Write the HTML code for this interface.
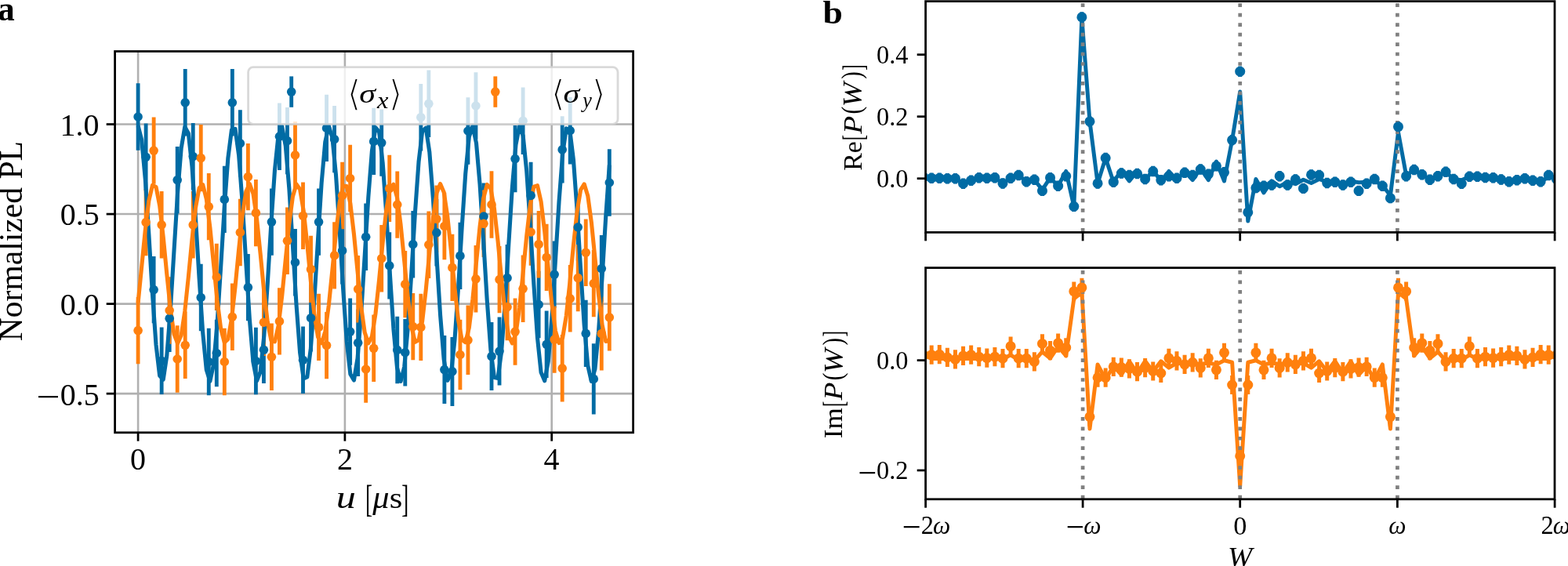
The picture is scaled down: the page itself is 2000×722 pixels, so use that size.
<!DOCTYPE html>
<html lang="en"><head><meta charset="utf-8"><title>Figure</title>
<style>
html,body{margin:0;padding:0;background:#fff;}
body{width:2000px;height:722px;overflow:hidden;}
svg{display:block;}
text{font-family:'Liberation Serif','DejaVu Serif',serif;fill:#000;font-kerning:none;white-space:pre;}
</style></head>
<body>
<svg width="2000" height="722" viewBox="0 0 2000 722">
<rect width="2000" height="722" fill="#fff"/>
<clipPath id="ca"><rect x="146.6" y="65.5" width="661" height="486.3"/></clipPath>
<g clip-path="url(#ca)">
<line x1="176.1" x2="176.1" y1="65.5" y2="551.8" stroke="#b0b0b0" stroke-width="2.6"/>
<line x1="439.9" x2="439.9" y1="65.5" y2="551.8" stroke="#b0b0b0" stroke-width="2.6"/>
<line x1="703.7" x2="703.7" y1="65.5" y2="551.8" stroke="#b0b0b0" stroke-width="2.6"/>
<line x1="146.6" x2="807.6" y1="158.53" y2="158.53" stroke="#b0b0b0" stroke-width="2.6"/>
<line x1="146.6" x2="807.6" y1="273.07" y2="273.07" stroke="#b0b0b0" stroke-width="2.6"/>
<line x1="146.6" x2="807.6" y1="387.6" y2="387.6" stroke="#b0b0b0" stroke-width="2.6"/>
<line x1="146.6" x2="807.6" y1="502.13" y2="502.13" stroke="#b0b0b0" stroke-width="2.6"/>
<path d="M176.1 106.3V191.7M186.12 157.6V243M196.14 326.9V412.3M206.16 417.6V503M216.18 363.5V448.9M226.2 186.9V272.3M236.22 88.1V173.5M246.24 156.9V242.3M256.26 336.8V422.2M266.28 418.8V504.2M276.3 407.8V493.2M286.32 211.7V297.1M296.34 88.1V173.5M306.36 140.2V225.6M316.38 323.9V409.3M326.4 417.8V503.2M336.42 403.6V489M346.44 240.4V325.8M356.46 131.5V216.9M366.48 136.9V222.3M376.5 292V377.4M386.52 416.6V502M396.54 363V448.4M406.56 240.4V325.8M416.58 120.7V206.1M426.6 134.9V220.3M436.62 277V362.4M446.64 380.4V465.8M456.66 394.6V480M466.68 259.6V345M476.7 137.7V223.1M486.72 139.4V224.8M496.74 296.2V381.6M506.76 403.8V489.2M516.78 407V492.4M526.8 269V354.4M536.82 107V192.4M546.84 89.6V175M556.86 254.1V339.5M566.88 428.1V515.1M576.9 429.9V517.9M586.92 283.7V369.1M596.94 124.3V209.7M606.96 92.3V177.7M616.98 233.4V318.8M627 411.1V498.1M637.02 404.6V491.6M647.04 311.9V397.3M657.06 159.9V245.3M667.08 111.5V196.9M677.1 206.7V292.1M687.12 345.8V431.2M697.14 396.6V482M707.16 307.4V392.8M717.18 148.2V233.6M727.2 124V209.4M737.22 247.1V332.5M747.24 382.7V468.1M757.26 438.2V528.6M767.28 299.9V385.3M777.3 190.3V275.7" stroke="#006ba4" stroke-width="4.85" fill="none"/>
<path d="M176.1 378.9V464.3M186.12 240.9V326.3M196.14 149.4V234.8M206.16 244.1V329.5M216.18 353.3V438.7M226.2 415.3V500.7M236.22 397.6V483M246.24 244.1V329.5M256.26 158.9V244.3M266.28 220.9V306.3M276.3 310.7V396.1M286.32 418.8V504.2M296.34 361.5V446.9M306.36 253.8V339.2M316.38 182.9V268.3M326.4 228.9V314.3M336.42 368.5V453.9M346.44 412.6V498M356.46 367.2V452.6M366.48 264.5V349.9M376.5 155.1V240.5M386.52 232.6V318M396.54 300.7V386.1M406.56 374.7V460.1M416.58 397.9V483.3M426.6 283.2V368.6M436.62 206.8V292.2M446.64 184.8V270.2M456.66 326.1V411.5M466.68 428.3V513.7M476.7 401.6V487M486.72 287V372.4M496.74 197.7V283.1M506.76 218.4V303.8M516.78 319.9V405.3M526.8 373.9V459.3M536.82 374.7V460.1M546.84 269.5V354.9M556.86 236.6V322M566.88 245.8V331.2M576.9 298.7V384.1M586.92 407.8V497.2M596.94 389.6V478M606.96 313.1V398.5M616.98 242.6V328M627 218.3V303.7M637.02 313.9V399.3M647.04 348.9V434.3M657.06 380.4V465.8M667.08 325.6V411M677.1 253.3V338.7M687.12 269V354.4M697.14 285.7V371.1M707.16 390.4V475.8M717.18 427.1V512.5M727.2 338.1V423.5M737.22 311.9V397.3M747.24 279.5V364.9M757.26 318.9V404.3M767.28 378.6V472.6M777.3 362.2V447.6" stroke="#ff800e" stroke-width="4.85" fill="none"/>
<polyline points="176.1,160.5 180.69,178.43 185.28,228.29 189.87,299.09 194.46,375.26 199.05,440.05 203.64,479.19 208.23,484.07 212.81,453.62 217.4,394.54 221.99,319.83 226.58,245.93 231.17,189.09 235.76,161.83 240.35,170.14 244.94,212.2 249.53,278.74 254.12,355.14 258.71,424.57 263.3,471.76 267.89,486.33 272.48,465.08 277.06,412.67 281.65,340.64 286.24,264.83 290.83,201.94 295.42,165.8 300.01,164.35 304.6,197.93 309.19,259.13 313.78,334.5 318.37,407.44 322.96,461.92 327.55,485.94 332.14,474.22 336.73,429.33 341.32,361.16 345.9,284.7 350.49,216.78 355.08,172.34 359.67,161.16 364.26,185.7 368.85,240.56 373.44,313.68 378.03,388.95 382.62,449.82 387.21,482.9 391.8,480.9 396.39,444.27 400.98,381.07 405.57,305.2 410.15,233.35 414.74,181.35 419.33,160.62 423.92,175.73 428.51,223.35 433.1,293.02 437.69,369.38 442.28,435.66 446.87,477.25 451.46,485.02 456.05,457.24 460.64,400.04 465.23,325.99 469.82,251.4 474.41,192.67 478.99,162.73 483.58,168.16 488.17,207.78 492.76,272.85 497.35,349.07 501.94,419.67 506.53,469.1 511.12,486.5 515.71,468.03 520.3,417.76 524.89,346.75 529.48,270.62 534.07,206.13 538.66,167.47 543.25,163.13 547.83,194.09 552.42,253.52 557.01,328.34 561.6,402.1 566.19,458.57 570.78,485.32 575.37,476.46 579.96,433.94 584.55,367.13 589.14,290.71 593.73,221.51 598.32,174.75 602.91,160.72 607.5,182.51 612.08,235.32 616.67,307.53 621.26,383.26 625.85,445.84 630.44,481.5 635.03,482.39 639.62,448.32 644.21,386.79 648.8,311.33 653.39,238.55 657.98,184.46 662.57,160.97 667.16,173.23 671.75,218.56 676.34,286.99 680.92,363.44 685.51,431.11 690.1,475.1 694.69,485.73 699.28,460.67 703.87,405.42 708.46,332.15 713.05,256.98 717.64,196.44 722.23,163.86 726.82,166.41 731.41,203.52 736,267.03 740.59,342.97 745.17,414.62 749.76,466.23 754.35,486.42 758.94,470.77 763.53,422.72 768.12,352.83 772.71,276.49 777.3,210.49" stroke="#006ba4" stroke-width="5.1" fill="none" stroke-linejoin="round" stroke-linecap="butt"/>
<polyline points="176.1,386.21 180.69,340.3 185.28,293.49 189.87,256.09 194.46,236.33 199.05,238.56 203.64,262.28 208.23,302.27 212.81,349.75 217.4,394.25 221.99,425.99 226.58,437.98 231.17,427.59 235.76,397.1 240.35,353.23 244.94,305.61 249.53,264.74 254.12,239.6 258.71,235.73 263.3,253.98 267.89,290.33 272.48,336.78 277.06,383.12 281.65,419.14 286.24,436.93 290.83,432.56 295.42,407 300.01,365.88 304.6,318.23 309.19,274.55 313.78,244.44 318.37,234.54 322.96,247.02 327.55,279.13 332.14,323.81 336.73,371.22 341.32,410.95 345.9,434.23 350.49,435.96 355.08,415.75 359.67,378.04 364.26,331.14 368.85,285.36 373.44,250.78 378.03,235.01 382.62,241.51 387.21,268.86 391.8,311.03 396.39,358.76 400.98,401.53 405.57,429.94 410.15,437.73 414.74,423.19 419.33,389.53 423.92,344.14 428.51,297.01 433.1,258.52 437.69,237.13 442.28,237.55 446.87,259.69 451.46,298.67 456.05,345.93 460.64,391.05 465.23,424.11 469.82,437.85 474.41,429.22 478.99,400.14 483.58,357 488.17,309.3 492.76,267.52 497.35,240.87 501.94,235.2 506.53,251.77 511.12,286.93 515.71,332.93 520.3,379.67 524.89,416.86 529.48,436.3 534.07,433.73 538.66,409.72 543.25,369.53 547.83,322.03 552.42,277.65 557.01,246.17 561.6,234.51 566.19,245.23 570.78,275.98 575.37,320 579.96,367.59 584.55,408.28 589.14,433.13 593.73,436.66 598.32,418.09 602.91,381.52 607.5,334.99 612.08,288.73 616.67,252.93 621.26,235.47 625.85,240.18 630.44,266.03 635.03,307.33 639.62,354.99 644.21,398.53 648.8,428.37 653.39,437.94 657.98,425.13 662.57,392.77 667.16,347.97 671.75,300.59 676.34,261.06 680.92,238.07 685.51,236.69 690.1,257.21 694.69,295.13 699.28,342.09 703.87,387.77 708.46,422.11 713.05,437.56 717.64,430.72 722.23,403.09 726.82,360.75 731.41,313.03 736,270.41 740.59,242.28 745.17,234.82 749.76,249.69 754.35,283.6 758.94,329.09 763.53,376.16 768.12,414.45 772.71,435.53 777.3,434.77" stroke="#ff800e" stroke-width="5.1" fill="none" stroke-linejoin="round" stroke-linecap="butt"/>
<g fill="#006ba4"><circle cx="176.1" cy="149" r="5.8"/><circle cx="186.12" cy="200.3" r="5.8"/><circle cx="196.14" cy="369.6" r="5.8"/><circle cx="206.16" cy="460.3" r="5.8"/><circle cx="216.18" cy="406.2" r="5.8"/><circle cx="226.2" cy="229.6" r="5.8"/><circle cx="236.22" cy="130.8" r="5.8"/><circle cx="246.24" cy="199.6" r="5.8"/><circle cx="256.26" cy="379.5" r="5.8"/><circle cx="266.28" cy="461.5" r="5.8"/><circle cx="276.3" cy="450.5" r="5.8"/><circle cx="286.32" cy="254.4" r="5.8"/><circle cx="296.34" cy="130.8" r="5.8"/><circle cx="306.36" cy="182.9" r="5.8"/><circle cx="316.38" cy="366.6" r="5.8"/><circle cx="326.4" cy="460.5" r="5.8"/><circle cx="336.42" cy="446.3" r="5.8"/><circle cx="346.44" cy="283.1" r="5.8"/><circle cx="356.46" cy="174.2" r="5.8"/><circle cx="366.48" cy="179.6" r="5.8"/><circle cx="376.5" cy="334.7" r="5.8"/><circle cx="386.52" cy="459.3" r="5.8"/><circle cx="396.54" cy="405.7" r="5.8"/><circle cx="406.56" cy="283.1" r="5.8"/><circle cx="416.58" cy="163.4" r="5.8"/><circle cx="426.6" cy="177.6" r="5.8"/><circle cx="436.62" cy="319.7" r="5.8"/><circle cx="446.64" cy="423.1" r="5.8"/><circle cx="456.66" cy="437.3" r="5.8"/><circle cx="466.68" cy="302.3" r="5.8"/><circle cx="476.7" cy="180.4" r="5.8"/><circle cx="486.72" cy="182.1" r="5.8"/><circle cx="496.74" cy="338.9" r="5.8"/><circle cx="506.76" cy="446.5" r="5.8"/><circle cx="516.78" cy="449.7" r="5.8"/><circle cx="526.8" cy="311.7" r="5.8"/><circle cx="536.82" cy="149.7" r="5.8"/><circle cx="546.84" cy="132.3" r="5.8"/><circle cx="556.86" cy="296.8" r="5.8"/><circle cx="566.88" cy="471.6" r="5.8"/><circle cx="576.9" cy="473.9" r="5.8"/><circle cx="586.92" cy="326.4" r="5.8"/><circle cx="596.94" cy="167" r="5.8"/><circle cx="606.96" cy="135" r="5.8"/><circle cx="616.98" cy="276.1" r="5.8"/><circle cx="627" cy="454.6" r="5.8"/><circle cx="637.02" cy="448.1" r="5.8"/><circle cx="647.04" cy="354.6" r="5.8"/><circle cx="657.06" cy="202.6" r="5.8"/><circle cx="667.08" cy="154.2" r="5.8"/><circle cx="677.1" cy="249.4" r="5.8"/><circle cx="687.12" cy="388.5" r="5.8"/><circle cx="697.14" cy="439.3" r="5.8"/><circle cx="707.16" cy="350.1" r="5.8"/><circle cx="717.18" cy="190.9" r="5.8"/><circle cx="727.2" cy="166.7" r="5.8"/><circle cx="737.22" cy="289.8" r="5.8"/><circle cx="747.24" cy="425.4" r="5.8"/><circle cx="757.26" cy="483.4" r="5.8"/><circle cx="767.28" cy="342.6" r="5.8"/><circle cx="777.3" cy="233" r="5.8"/></g>
<g fill="#ff800e"><circle cx="176.1" cy="421.6" r="5.8"/><circle cx="186.12" cy="283.6" r="5.8"/><circle cx="196.14" cy="192.1" r="5.8"/><circle cx="206.16" cy="286.8" r="5.8"/><circle cx="216.18" cy="396" r="5.8"/><circle cx="226.2" cy="458" r="5.8"/><circle cx="236.22" cy="440.3" r="5.8"/><circle cx="246.24" cy="286.8" r="5.8"/><circle cx="256.26" cy="201.6" r="5.8"/><circle cx="266.28" cy="263.6" r="5.8"/><circle cx="276.3" cy="353.4" r="5.8"/><circle cx="286.32" cy="461.5" r="5.8"/><circle cx="296.34" cy="404.2" r="5.8"/><circle cx="306.36" cy="296.5" r="5.8"/><circle cx="316.38" cy="225.6" r="5.8"/><circle cx="326.4" cy="271.6" r="5.8"/><circle cx="336.42" cy="411.2" r="5.8"/><circle cx="346.44" cy="455.3" r="5.8"/><circle cx="356.46" cy="409.9" r="5.8"/><circle cx="366.48" cy="307.2" r="5.8"/><circle cx="376.5" cy="197.8" r="5.8"/><circle cx="386.52" cy="275.3" r="5.8"/><circle cx="396.54" cy="343.4" r="5.8"/><circle cx="406.56" cy="417.4" r="5.8"/><circle cx="416.58" cy="440.6" r="5.8"/><circle cx="426.6" cy="325.9" r="5.8"/><circle cx="436.62" cy="249.5" r="5.8"/><circle cx="446.64" cy="227.5" r="5.8"/><circle cx="456.66" cy="368.8" r="5.8"/><circle cx="466.68" cy="471" r="5.8"/><circle cx="476.7" cy="444.3" r="5.8"/><circle cx="486.72" cy="329.7" r="5.8"/><circle cx="496.74" cy="240.4" r="5.8"/><circle cx="506.76" cy="261.1" r="5.8"/><circle cx="516.78" cy="362.6" r="5.8"/><circle cx="526.8" cy="416.6" r="5.8"/><circle cx="536.82" cy="417.4" r="5.8"/><circle cx="546.84" cy="312.2" r="5.8"/><circle cx="556.86" cy="279.3" r="5.8"/><circle cx="566.88" cy="288.5" r="5.8"/><circle cx="576.9" cy="341.4" r="5.8"/><circle cx="586.92" cy="452.5" r="5.8"/><circle cx="596.94" cy="433.8" r="5.8"/><circle cx="606.96" cy="355.8" r="5.8"/><circle cx="616.98" cy="285.3" r="5.8"/><circle cx="627" cy="261" r="5.8"/><circle cx="637.02" cy="356.6" r="5.8"/><circle cx="647.04" cy="391.6" r="5.8"/><circle cx="657.06" cy="423.1" r="5.8"/><circle cx="667.08" cy="368.3" r="5.8"/><circle cx="677.1" cy="296" r="5.8"/><circle cx="687.12" cy="311.7" r="5.8"/><circle cx="697.14" cy="328.4" r="5.8"/><circle cx="707.16" cy="433.1" r="5.8"/><circle cx="717.18" cy="469.8" r="5.8"/><circle cx="727.2" cy="380.8" r="5.8"/><circle cx="737.22" cy="354.6" r="5.8"/><circle cx="747.24" cy="322.2" r="5.8"/><circle cx="757.26" cy="361.6" r="5.8"/><circle cx="767.28" cy="425.6" r="5.8"/><circle cx="777.3" cy="404.9" r="5.8"/></g>
</g>
<rect x="316.6" y="85.6" width="471.4" height="72.8" rx="6.5" ry="6.5" fill="#ffffff" fill-opacity="0.8" stroke="#d0d0d0" stroke-opacity="0.8" stroke-width="2.8"/>
<line x1="371.7" x2="371.7" y1="97.4" y2="136.8" stroke="#006ba4" stroke-width="4.85"/>
<circle cx="371.7" cy="117.1" r="5.8" fill="#006ba4"/>
<line x1="631.8" x2="631.8" y1="97.4" y2="136.8" stroke="#ff800e" stroke-width="4.85"/>
<circle cx="631.8" cy="117.1" r="5.8" fill="#ff800e"/>
<text transform="translate(442.692,135.246) scale(0.449,0.459)" font-size="100" style="font-family:'DejaVu Sans',sans-serif;" stroke="#fff" stroke-width="3.6">⟨</text>
<text transform="translate(458.249,131.262) scale(0.42,0.346)" font-size="100" style="font-family:'Liberation Serif',serif;font-style:italic;">σ</text>
<text transform="translate(481.097,137.5) scale(0.325,0.296)" font-size="100" style="font-family:'Liberation Serif',serif;font-style:italic;">x</text>
<text transform="translate(495.772,135.246) scale(0.453,0.459)" font-size="100" style="font-family:'DejaVu Sans',sans-serif;" stroke="#fff" stroke-width="3.6">⟩</text>
<text transform="translate(702.892,135.246) scale(0.449,0.459)" font-size="100" style="font-family:'DejaVu Sans',sans-serif;" stroke="#fff" stroke-width="3.6">⟨</text>
<text transform="translate(718.449,131.262) scale(0.42,0.346)" font-size="100" style="font-family:'Liberation Serif',serif;font-style:italic;">σ</text>
<text transform="translate(743.283,136.755) scale(0.261,0.28)" font-size="100" style="font-family:'Liberation Serif',serif;font-style:italic;">y</text>
<text transform="translate(754.699,135.246) scale(0.462,0.459)" font-size="100" style="font-family:'DejaVu Sans',sans-serif;" stroke="#fff" stroke-width="3.6">⟩</text>
<rect x="146.6" y="65.5" width="661" height="486.3" fill="none" stroke="#000" stroke-width="2.75"/>
<line x1="176.1" x2="176.1" y1="551.8" y2="562.6999999999999" stroke="#000" stroke-width="2.75"/>
<text transform="translate(166.1,599.1) scale(1,1.02)" font-size="40" style="font-family:'Liberation Serif',serif;">0</text>
<line x1="439.9" x2="439.9" y1="551.8" y2="562.6999999999999" stroke="#000" stroke-width="2.75"/>
<text transform="translate(430.12,599.1) scale(1,1.02)" font-size="40" style="font-family:'Liberation Serif',serif;">2</text>
<line x1="703.7" x2="703.7" y1="551.8" y2="562.6999999999999" stroke="#000" stroke-width="2.75"/>
<text transform="translate(693.62,599.1) scale(1,1.02)" font-size="40" style="font-family:'Liberation Serif',serif;">4</text>
<line x1="135.7" x2="146.6" y1="158.53" y2="158.53" stroke="#000" stroke-width="2.75"/>
<text transform="translate(76.48,172.93) scale(1,1.02)" font-size="40" style="font-family:'Liberation Serif',serif;">1.0</text>
<line x1="135.7" x2="146.6" y1="273.07" y2="273.07" stroke="#000" stroke-width="2.75"/>
<text transform="translate(76.68,287.47) scale(1,1.02)" font-size="40" style="font-family:'Liberation Serif',serif;">0.5</text>
<line x1="135.7" x2="146.6" y1="387.6" y2="387.6" stroke="#000" stroke-width="2.75"/>
<text transform="translate(76.68,402) scale(1,1.02)" font-size="40" style="font-family:'Liberation Serif',serif;">0.0</text>
<line x1="135.7" x2="146.6" y1="502.13" y2="502.13" stroke="#000" stroke-width="2.75"/>
<text transform="translate(76.68,516.53) scale(1,1.02)" font-size="40" style="font-family:'Liberation Serif',serif;">0.5</text>
<text transform="translate(46.424,520.602) scale(0.537,0.442)" font-size="100" style="font-family:'Liberation Serif',serif;">−</text>
<text transform="translate(428.698,648.232) scale(0.502,0.399)" font-size="100" style="font-family:'Liberation Serif',serif;font-style:italic;">u</text>
<text transform="translate(466,651.518) scale(0.269,0.485)" font-size="100" style="font-family:'Liberation Serif',serif;">[</text>
<text transform="translate(475.341,648.109) scale(0.424,0.392)" font-size="100" style="font-family:'Liberation Serif',serif;font-style:italic;">μ</text>
<text transform="translate(496.852,648.32) scale(0.426,0.389)" font-size="100" style="font-family:'Liberation Serif',serif;">s</text>
<text transform="translate(512.126,651.518) scale(0.269,0.485)" font-size="100" style="font-family:'Liberation Serif',serif;">]</text>
<text transform="translate(27.7,435.3) rotate(-90) scale(1.04,1.04)" font-size="40"><tspan style="font-family:'Liberation Serif',serif;">Normalized PL</tspan></text>
<text transform="translate(-3.103,26.176) scale(0.435,0.434)" font-size="100" style="font-family:'Liberation Serif',serif;font-weight:bold;">a</text>
<text transform="translate(1049.419,30.292) scale(0.457,0.418)" font-size="100" style="font-family:'Liberation Serif',serif;font-weight:bold;">b</text>
<clipPath id="cb1"><rect x="1180.6" y="1.65" width="802.4" height="294.75"/></clipPath>
<g clip-path="url(#cb1)">
<path d="M1178.1 219.3V232.7M1188.19 220.51V233.91M1198.28 220.51V233.91M1208.37 221.01V234.41M1218.46 221.01V234.41M1228.55 227.49V240.89M1238.64 223.5V236.9M1248.73 220.01V233.41M1258.82 220.51V233.91M1268.91 220.01V233.41M1279 227.24V240.64M1289.09 220.51V233.91M1299.18 216.77V230.17M1309.27 224.99V238.39M1319.36 222.5V235.9M1329.45 236.71V250.11M1339.54 220.01V233.41M1349.63 230.48V243.88M1359.72 218.02V231.42M1369.81 256.65V270.05M1379.9 15.2V28.6M1389.99 148.23V161.63M1400.08 227.24V240.64M1410.17 194.84V208.24M1420.26 225.49V238.89M1430.35 214.28V227.68M1440.44 216.77V230.17M1450.53 214.78V228.18M1460.62 221.75V235.15M1470.71 211.78V225.18M1480.8 223V236.4M1490.89 218.02V231.42M1500.98 220.51V233.91M1511.07 213.53V226.93M1521.16 216.77V230.17M1531.25 209.29V222.69M1541.34 215.52V228.92M1551.43 205.05V218.45M1561.52 213.03V226.43M1571.61 171.9V185.3M1581.7 84.5V97.9M1591.79 264.13V277.53M1601.88 232.97V246.37M1611.97 230.48V243.88M1622.06 229.23V242.63M1632.15 218.02V231.42M1642.24 229.23V242.63M1652.33 222.25V235.65M1662.42 233.72V247.12M1672.51 216.27V229.67M1682.6 216.77V230.17M1692.69 226.74V240.14M1702.78 225.49V238.89M1712.87 229.23V242.63M1722.96 225.49V238.89M1733.05 236.71V250.11M1743.14 227.49V240.89M1753.23 221.75V235.15M1763.32 230.48V243.88M1773.41 245.93V259.33M1783.5 154.96V168.36M1793.59 218.02V231.42M1803.68 209.79V223.19M1813.77 216.02V229.42M1823.86 222.5V235.9M1833.95 218.02V231.42M1844.04 212.53V225.93M1854.13 221.75V235.15M1864.22 227.49V240.89M1874.31 218.51V231.91M1884.4 218.51V231.91M1894.49 219.76V233.16M1904.58 220.01V233.41M1914.67 222.25V235.65M1924.76 224.99V238.39M1934.85 223V236.4M1944.94 221.01V234.41M1955.03 223.5V236.9M1965.12 224.99V238.39M1975.21 216.77V230.17M1985.3 221.8V235.2" stroke="#006ba4" stroke-width="5.0" fill="none"/>
<polyline points="1178.1,225.5 1188.19,227.21 1198.28,227.21 1208.37,227.71 1218.46,227.71 1228.55,234.19 1238.64,230.2 1248.73,226.71 1258.82,227.21 1268.91,226.71 1279,233.94 1289.09,227.21 1299.18,223.47 1309.27,231.69 1319.36,229.2 1329.45,242.16 1339.54,226.71 1349.63,237.18 1359.72,218.48 1369.81,263.35 1379.9,23 1389.99,154.93 1400.08,233.94 1410.17,201.54 1420.26,232.19 1430.35,217.24 1440.44,230.95 1450.53,218.48 1460.62,229.7 1470.71,217.24 1480.8,230.95 1490.89,218.48 1500.98,229.7 1511.07,218.48 1521.16,229.7 1531.25,214.75 1541.34,229.7 1551.43,206.02 1561.52,230.95 1571.61,178.6 1581.7,117 1591.79,282.04 1601.88,228.45 1611.97,245.9 1622.06,230.95 1632.15,237.68 1642.24,232.19 1652.33,234.69 1662.42,229.2 1672.51,233.44 1682.6,228.45 1692.69,232.19 1702.78,232.19 1712.87,234.69 1722.96,230.95 1733.05,232.69 1743.14,232.19 1753.23,230.95 1763.32,235.93 1773.41,249.64 1783.5,168.63 1793.59,223.47 1803.68,217.24 1813.77,222.72 1823.86,228.45 1833.95,224.72 1844.04,219.23 1854.13,228.45 1864.22,229.7 1874.31,225.21 1884.4,225.21 1894.49,226.46 1904.58,226.71 1914.67,228.95 1924.76,231.69 1934.85,229.7 1944.94,227.71 1955.03,230.2 1965.12,231.69 1975.21,225.96 1985.3,228" stroke="#006ba4" stroke-width="5.0" fill="none" stroke-linejoin="round"/>
<line x1="1381.1" x2="1381.1" y1="295.65" y2="-18.35" stroke="#808080" stroke-width="4.7" stroke-dasharray="4.7 7.76"/>
<line x1="1581.7" x2="1581.7" y1="295.65" y2="-18.35" stroke="#808080" stroke-width="4.7" stroke-dasharray="4.7 7.76"/>
<line x1="1782.4" x2="1782.4" y1="295.65" y2="-18.35" stroke="#808080" stroke-width="4.7" stroke-dasharray="4.7 7.76"/>
<g fill="#006ba4"><circle cx="1178.1" cy="226" r="6.5"/><circle cx="1188.19" cy="227.21" r="6.5"/><circle cx="1198.28" cy="227.21" r="6.5"/><circle cx="1208.37" cy="227.71" r="6.5"/><circle cx="1218.46" cy="227.71" r="6.5"/><circle cx="1228.55" cy="234.19" r="6.5"/><circle cx="1238.64" cy="230.2" r="6.5"/><circle cx="1248.73" cy="226.71" r="6.5"/><circle cx="1258.82" cy="227.21" r="6.5"/><circle cx="1268.91" cy="226.71" r="6.5"/><circle cx="1279" cy="233.94" r="6.5"/><circle cx="1289.09" cy="227.21" r="6.5"/><circle cx="1299.18" cy="223.47" r="6.5"/><circle cx="1309.27" cy="231.69" r="6.5"/><circle cx="1319.36" cy="229.2" r="6.5"/><circle cx="1329.45" cy="243.41" r="6.5"/><circle cx="1339.54" cy="226.71" r="6.5"/><circle cx="1349.63" cy="237.18" r="6.5"/><circle cx="1359.72" cy="224.72" r="6.5"/><circle cx="1369.81" cy="263.35" r="6.5"/><circle cx="1379.9" cy="21.9" r="6.5"/><circle cx="1389.99" cy="154.93" r="6.5"/><circle cx="1400.08" cy="233.94" r="6.5"/><circle cx="1410.17" cy="201.54" r="6.5"/><circle cx="1420.26" cy="232.19" r="6.5"/><circle cx="1430.35" cy="220.98" r="6.5"/><circle cx="1440.44" cy="223.47" r="6.5"/><circle cx="1450.53" cy="221.48" r="6.5"/><circle cx="1460.62" cy="228.45" r="6.5"/><circle cx="1470.71" cy="218.48" r="6.5"/><circle cx="1480.8" cy="229.7" r="6.5"/><circle cx="1490.89" cy="224.72" r="6.5"/><circle cx="1500.98" cy="227.21" r="6.5"/><circle cx="1511.07" cy="220.23" r="6.5"/><circle cx="1521.16" cy="223.47" r="6.5"/><circle cx="1531.25" cy="215.99" r="6.5"/><circle cx="1541.34" cy="222.22" r="6.5"/><circle cx="1551.43" cy="211.75" r="6.5"/><circle cx="1561.52" cy="219.73" r="6.5"/><circle cx="1571.61" cy="178.6" r="6.5"/><circle cx="1581.7" cy="91.2" r="6.5"/><circle cx="1591.79" cy="270.83" r="6.5"/><circle cx="1601.88" cy="239.67" r="6.5"/><circle cx="1611.97" cy="237.18" r="6.5"/><circle cx="1622.06" cy="235.93" r="6.5"/><circle cx="1632.15" cy="224.72" r="6.5"/><circle cx="1642.24" cy="235.93" r="6.5"/><circle cx="1652.33" cy="228.95" r="6.5"/><circle cx="1662.42" cy="240.42" r="6.5"/><circle cx="1672.51" cy="222.97" r="6.5"/><circle cx="1682.6" cy="223.47" r="6.5"/><circle cx="1692.69" cy="233.44" r="6.5"/><circle cx="1702.78" cy="232.19" r="6.5"/><circle cx="1712.87" cy="235.93" r="6.5"/><circle cx="1722.96" cy="232.19" r="6.5"/><circle cx="1733.05" cy="243.41" r="6.5"/><circle cx="1743.14" cy="234.19" r="6.5"/><circle cx="1753.23" cy="228.45" r="6.5"/><circle cx="1763.32" cy="237.18" r="6.5"/><circle cx="1773.41" cy="252.63" r="6.5"/><circle cx="1783.5" cy="161.66" r="6.5"/><circle cx="1793.59" cy="224.72" r="6.5"/><circle cx="1803.68" cy="216.49" r="6.5"/><circle cx="1813.77" cy="222.72" r="6.5"/><circle cx="1823.86" cy="229.2" r="6.5"/><circle cx="1833.95" cy="224.72" r="6.5"/><circle cx="1844.04" cy="219.23" r="6.5"/><circle cx="1854.13" cy="228.45" r="6.5"/><circle cx="1864.22" cy="234.19" r="6.5"/><circle cx="1874.31" cy="225.21" r="6.5"/><circle cx="1884.4" cy="225.21" r="6.5"/><circle cx="1894.49" cy="226.46" r="6.5"/><circle cx="1904.58" cy="226.71" r="6.5"/><circle cx="1914.67" cy="228.95" r="6.5"/><circle cx="1924.76" cy="231.69" r="6.5"/><circle cx="1934.85" cy="229.7" r="6.5"/><circle cx="1944.94" cy="227.71" r="6.5"/><circle cx="1955.03" cy="230.2" r="6.5"/><circle cx="1965.12" cy="231.69" r="6.5"/><circle cx="1975.21" cy="223.47" r="6.5"/><circle cx="1985.3" cy="228.5" r="6.5"/></g>
</g>
<rect x="1180.6" y="1.65" width="802.4" height="294.75" fill="none" stroke="#000" stroke-width="2.75"/>
<line x1="1180.6" x2="1180.6" y1="296.4" y2="307.29999999999995" stroke="#000" stroke-width="2.75"/>
<line x1="1381.1" x2="1381.1" y1="296.4" y2="307.29999999999995" stroke="#000" stroke-width="2.75"/>
<line x1="1581.7" x2="1581.7" y1="296.4" y2="307.29999999999995" stroke="#000" stroke-width="2.75"/>
<line x1="1782.4" x2="1782.4" y1="296.4" y2="307.29999999999995" stroke="#000" stroke-width="2.75"/>
<line x1="1983.1" x2="1983.1" y1="296.4" y2="307.29999999999995" stroke="#000" stroke-width="2.75"/>
<line x1="1169.6999999999998" x2="1180.6" y1="69.7" y2="69.7" stroke="#000" stroke-width="2.75"/>
<text transform="translate(1118.07,80.9) scale(0.81,0.82)" font-size="40" style="font-family:'Liberation Serif',serif;">0.4</text>
<line x1="1169.6999999999998" x2="1180.6" y1="148.7" y2="148.7" stroke="#000" stroke-width="2.75"/>
<text transform="translate(1118.07,159.9) scale(0.81,0.82)" font-size="40" style="font-family:'Liberation Serif',serif;">0.2</text>
<line x1="1169.6999999999998" x2="1180.6" y1="227.7" y2="227.7" stroke="#000" stroke-width="2.75"/>
<text transform="translate(1118.07,238.9) scale(0.81,0.82)" font-size="40" style="font-family:'Liberation Serif',serif;">0.0</text>
<clipPath id="cb2"><rect x="1180.6" y="341.6" width="802.4" height="295.2"/></clipPath>
<g clip-path="url(#cb2)">
<path d="M1178.1 440.9V465.1M1188.19 440.56V464.76M1198.28 440.06V464.26M1208.37 443.8V468M1218.46 446.29V470.49M1228.55 441.81V466.01M1238.64 440.56V464.76M1248.73 443.05V467.25M1258.82 444.55V468.75M1268.91 443.05V467.25M1279 445.05V469.25M1289.09 429.59V453.79M1299.18 445.05V469.25M1309.27 445.05V469.25M1319.36 449.29V473.49M1329.45 426.35V450.55M1339.54 435.08V459.28M1349.63 425.61V449.81M1359.72 431.34V455.54M1369.81 359.56V383.76M1379.9 354.82V379.02M1389.99 519.5V543.7M1400.08 469.65V493.85M1410.17 469.6V493.8M1420.26 455.7V479.9M1430.35 456.44V480.64M1440.44 458.2V482.4M1450.53 462.1V486.3M1460.62 457V481.2M1470.71 461.4V485.6M1480.8 463.92V488.12M1490.89 444.73V468.93M1500.98 448.22V472.42M1511.07 452.71V476.91M1521.16 450.21V474.41M1531.25 457.3V481.5M1541.34 444.73V468.93M1551.43 459.68V483.88M1561.52 437.75V461.95M1571.61 478.88V503.08M1581.7 569.6V593.8M1591.79 478.88V503.08M1601.88 437.75V461.95M1611.97 459.68V483.88M1622.06 444.73V468.93M1632.15 457.3V481.5M1642.24 450.21V474.41M1652.33 452.71V476.91M1662.42 448.22V472.42M1672.51 444.73V468.93M1682.6 463.92V488.12M1692.69 461.4V485.6M1702.78 457V481.2M1712.87 462.1V486.3M1722.96 458.2V482.4M1733.05 456.44V480.64M1743.14 455.7V479.9M1753.23 469.6V493.8M1763.32 469.65V493.85M1773.41 519.5V543.7M1783.5 354.82V379.02M1793.59 359.56V383.76M1803.68 431.34V455.54M1813.77 425.61V449.81M1823.86 435.08V459.28M1833.95 426.35V450.55M1844.04 449.29V473.49M1854.13 445.05V469.25M1864.22 445.05V469.25M1874.31 429.59V453.79M1884.4 445.05V469.25M1894.49 443.05V467.25M1904.58 444.55V468.75M1914.67 443.05V467.25M1924.76 440.56V464.76M1934.85 441.81V466.01M1944.94 446.29V470.49M1955.03 443.8V468M1965.12 440.06V464.26M1975.21 440.56V464.76M1985.3 440.9V465.1" stroke="#ff800e" stroke-width="5.0" fill="none"/>
<polyline points="1178.1,453 1188.19,457.5 1198.28,457.5 1208.37,457.5 1218.46,457.5 1228.55,457.5 1238.64,457.5 1248.73,457.5 1258.82,457.5 1268.91,457.5 1279,458 1289.09,452.8 1299.18,459 1309.27,459 1319.36,460 1329.45,448.7 1339.54,457 1349.63,442 1359.72,454 1369.81,381 1379.9,373 1389.99,547 1400.08,464.9 1410.17,484 1420.26,467 1430.35,478.2 1440.44,461 1450.53,476 1460.62,460.5 1470.71,474 1480.8,460.8 1490.89,469.1 1500.98,463 1511.07,464 1521.16,463 1531.25,464.5 1541.34,463 1551.43,465 1561.52,459.8 1571.61,462.3 1581.7,620 1591.79,462.3 1601.88,459.8 1611.97,465 1622.06,463 1632.15,464.5 1642.24,463 1652.33,464 1662.42,463 1672.51,469.1 1682.6,460.8 1692.69,474 1702.78,460.5 1712.87,476 1722.96,461 1733.05,478.2 1743.14,467 1753.23,484 1763.32,464.9 1773.41,547 1783.5,373 1793.59,381 1803.68,454 1813.77,442 1823.86,457 1833.95,448.7 1844.04,460 1854.13,459 1864.22,459 1874.31,452.8 1884.4,458 1894.49,457.5 1904.58,457.5 1914.67,457.5 1924.76,457.5 1934.85,457.5 1944.94,457.5 1955.03,457.5 1965.12,457.5 1975.21,457.5 1985.3,453" stroke="#ff800e" stroke-width="5.0" fill="none" stroke-linejoin="round"/>
<line x1="1381.1" x2="1381.1" y1="636.35" y2="321.6" stroke="#808080" stroke-width="4.7" stroke-dasharray="4.7 7.76"/>
<line x1="1581.7" x2="1581.7" y1="636.35" y2="321.6" stroke="#808080" stroke-width="4.7" stroke-dasharray="4.7 7.76"/>
<line x1="1782.4" x2="1782.4" y1="636.35" y2="321.6" stroke="#808080" stroke-width="4.7" stroke-dasharray="4.7 7.76"/>
<g fill="#ff800e"><circle cx="1178.1" cy="453" r="6.5"/><circle cx="1188.19" cy="452.66" r="6.5"/><circle cx="1198.28" cy="452.16" r="6.5"/><circle cx="1208.37" cy="455.9" r="6.5"/><circle cx="1218.46" cy="458.39" r="6.5"/><circle cx="1228.55" cy="453.91" r="6.5"/><circle cx="1238.64" cy="452.66" r="6.5"/><circle cx="1248.73" cy="455.15" r="6.5"/><circle cx="1258.82" cy="456.65" r="6.5"/><circle cx="1268.91" cy="455.15" r="6.5"/><circle cx="1279" cy="457.15" r="6.5"/><circle cx="1289.09" cy="441.69" r="6.5"/><circle cx="1299.18" cy="457.15" r="6.5"/><circle cx="1309.27" cy="457.15" r="6.5"/><circle cx="1319.36" cy="461.39" r="6.5"/><circle cx="1329.45" cy="438.45" r="6.5"/><circle cx="1339.54" cy="447.18" r="6.5"/><circle cx="1349.63" cy="437.71" r="6.5"/><circle cx="1359.72" cy="443.44" r="6.5"/><circle cx="1369.81" cy="371.66" r="6.5"/><circle cx="1379.9" cy="366.92" r="6.5"/><circle cx="1389.99" cy="531.6" r="6.5"/><circle cx="1400.08" cy="481.75" r="6.5"/><circle cx="1410.17" cy="481.7" r="6.5"/><circle cx="1420.26" cy="467.8" r="6.5"/><circle cx="1430.35" cy="468.54" r="6.5"/><circle cx="1440.44" cy="470.3" r="6.5"/><circle cx="1450.53" cy="474.2" r="6.5"/><circle cx="1460.62" cy="469.1" r="6.5"/><circle cx="1470.71" cy="473.5" r="6.5"/><circle cx="1480.8" cy="476.02" r="6.5"/><circle cx="1490.89" cy="456.83" r="6.5"/><circle cx="1500.98" cy="460.32" r="6.5"/><circle cx="1511.07" cy="464.81" r="6.5"/><circle cx="1521.16" cy="462.31" r="6.5"/><circle cx="1531.25" cy="469.4" r="6.5"/><circle cx="1541.34" cy="456.83" r="6.5"/><circle cx="1551.43" cy="471.78" r="6.5"/><circle cx="1561.52" cy="449.85" r="6.5"/><circle cx="1571.61" cy="490.98" r="6.5"/><circle cx="1581.7" cy="581.7" r="6.5"/><circle cx="1591.79" cy="490.98" r="6.5"/><circle cx="1601.88" cy="449.85" r="6.5"/><circle cx="1611.97" cy="471.78" r="6.5"/><circle cx="1622.06" cy="456.83" r="6.5"/><circle cx="1632.15" cy="469.4" r="6.5"/><circle cx="1642.24" cy="462.31" r="6.5"/><circle cx="1652.33" cy="464.81" r="6.5"/><circle cx="1662.42" cy="460.32" r="6.5"/><circle cx="1672.51" cy="456.83" r="6.5"/><circle cx="1682.6" cy="476.02" r="6.5"/><circle cx="1692.69" cy="473.5" r="6.5"/><circle cx="1702.78" cy="469.1" r="6.5"/><circle cx="1712.87" cy="474.2" r="6.5"/><circle cx="1722.96" cy="470.3" r="6.5"/><circle cx="1733.05" cy="468.54" r="6.5"/><circle cx="1743.14" cy="467.8" r="6.5"/><circle cx="1753.23" cy="481.7" r="6.5"/><circle cx="1763.32" cy="481.75" r="6.5"/><circle cx="1773.41" cy="531.6" r="6.5"/><circle cx="1783.5" cy="366.92" r="6.5"/><circle cx="1793.59" cy="371.66" r="6.5"/><circle cx="1803.68" cy="443.44" r="6.5"/><circle cx="1813.77" cy="437.71" r="6.5"/><circle cx="1823.86" cy="447.18" r="6.5"/><circle cx="1833.95" cy="438.45" r="6.5"/><circle cx="1844.04" cy="461.39" r="6.5"/><circle cx="1854.13" cy="457.15" r="6.5"/><circle cx="1864.22" cy="457.15" r="6.5"/><circle cx="1874.31" cy="441.69" r="6.5"/><circle cx="1884.4" cy="457.15" r="6.5"/><circle cx="1894.49" cy="455.15" r="6.5"/><circle cx="1904.58" cy="456.65" r="6.5"/><circle cx="1914.67" cy="455.15" r="6.5"/><circle cx="1924.76" cy="452.66" r="6.5"/><circle cx="1934.85" cy="453.91" r="6.5"/><circle cx="1944.94" cy="458.39" r="6.5"/><circle cx="1955.03" cy="455.9" r="6.5"/><circle cx="1965.12" cy="452.16" r="6.5"/><circle cx="1975.21" cy="452.66" r="6.5"/><circle cx="1985.3" cy="453" r="6.5"/></g>
</g>
<rect x="1180.6" y="341.6" width="802.4" height="295.2" fill="none" stroke="#000" stroke-width="2.75"/>
<line x1="1180.6" x2="1180.6" y1="636.8" y2="647.6999999999999" stroke="#000" stroke-width="2.75"/>
<line x1="1381.1" x2="1381.1" y1="636.8" y2="647.6999999999999" stroke="#000" stroke-width="2.75"/>
<line x1="1581.7" x2="1581.7" y1="636.8" y2="647.6999999999999" stroke="#000" stroke-width="2.75"/>
<line x1="1782.4" x2="1782.4" y1="636.8" y2="647.6999999999999" stroke="#000" stroke-width="2.75"/>
<line x1="1983.1" x2="1983.1" y1="636.8" y2="647.6999999999999" stroke="#000" stroke-width="2.75"/>
<line x1="1169.6999999999998" x2="1180.6" y1="459.6" y2="459.6" stroke="#000" stroke-width="2.75"/>
<text transform="translate(1118.07,470.8) scale(0.81,0.82)" font-size="40" style="font-family:'Liberation Serif',serif;">0.0</text>
<line x1="1169.6999999999998" x2="1180.6" y1="600" y2="600" stroke="#000" stroke-width="2.75"/>
<text transform="translate(1094.392,617.667) scale(0.423,0.442)" font-size="100" style="font-family:'Liberation Serif',serif;">−</text>
<text transform="translate(1118.07,611.2) scale(0.81,0.82)" font-size="40" style="font-family:'Liberation Serif',serif;">0.2</text>
<text transform="translate(1150.77,687.467) scale(0.428,0.442)" font-size="100" style="font-family:'Liberation Serif',serif;">−</text>
<text transform="translate(1174.78,681) scale(0.81,0.82)" font-size="40" style="font-family:'Liberation Serif',serif;">2</text>
<text transform="translate(1190.055,681.288) scale(0.315,0.32)" font-size="100" style="font-family:'Liberation Serif',serif;font-style:italic;">ω</text>
<text transform="translate(1359.734,687.467) scale(0.415,0.442)" font-size="100" style="font-family:'Liberation Serif',serif;">−</text>
<text transform="translate(1382.355,681.288) scale(0.315,0.32)" font-size="100" style="font-family:'Liberation Serif',serif;font-style:italic;">ω</text>
<text transform="translate(1573.197,681.673) scale(0.342,0.335)" font-size="100" style="font-family:'Liberation Serif',serif;">0</text>
<text transform="translate(1771.355,681.288) scale(0.315,0.32)" font-size="100" style="font-family:'Liberation Serif',serif;font-style:italic;">ω</text>
<text transform="translate(1965.48,681) scale(0.81,0.82)" font-size="40" style="font-family:'Liberation Serif',serif;">2</text>
<text transform="translate(1980.855,681.288) scale(0.315,0.32)" font-size="100" style="font-family:'Liberation Serif',serif;font-style:italic;">ω</text>
<text transform="translate(1565.928,722.574) scale(0.375,0.348)" font-size="100" style="font-family:'Liberation Serif',serif;font-style:italic;">W</text>
<text transform="translate(1098.57,217.77) rotate(-90) scale(0.8450,0.8427)" font-size="40" style="font-family:'Liberation Serif',serif;">Re</text>
<text transform="translate(1100.78,178.97) rotate(-90) scale(0.5277,0.9575)" font-size="40" style="font-family:'Liberation Serif',serif;">[</text>
<text transform="translate(1098.6,170.7) rotate(-90) scale(0.9394,0.8438)" font-size="40" style="font-family:'Liberation Serif',serif;font-style:italic;">P</text>
<text transform="translate(1098.46,145.58) rotate(-90) scale(0.7300,0.8740)" font-size="40" style="font-family:'Liberation Serif',serif;">(</text>
<text transform="translate(1098.39,136.26) rotate(-90) scale(0.9314,0.8359)" font-size="40" style="font-family:'Liberation Serif',serif;font-style:italic;">W</text>
<text transform="translate(1098.46,100.83) rotate(-90) scale(0.7203,0.8740)" font-size="40" style="font-family:'Liberation Serif',serif;">)</text>
<text transform="translate(1100.78,89.81) rotate(-90) scale(0.5614,0.9575)" font-size="40" style="font-family:'Liberation Serif',serif;">]</text>
<text transform="translate(1074.3,559.27) rotate(-90) scale(0.8781,0.8438)" font-size="40" style="font-family:'Liberation Serif',serif;">Im</text>
<text transform="translate(1076.48,518.67) rotate(-90) scale(0.5277,0.9575)" font-size="40" style="font-family:'Liberation Serif',serif;">[</text>
<text transform="translate(1074.3,510.4) rotate(-90) scale(0.9394,0.8438)" font-size="40" style="font-family:'Liberation Serif',serif;font-style:italic;">P</text>
<text transform="translate(1074.16,485.28) rotate(-90) scale(0.7300,0.8740)" font-size="40" style="font-family:'Liberation Serif',serif;">(</text>
<text transform="translate(1074.09,475.96) rotate(-90) scale(0.9314,0.8359)" font-size="40" style="font-family:'Liberation Serif',serif;font-style:italic;">W</text>
<text transform="translate(1074.16,440.53) rotate(-90) scale(0.7203,0.8740)" font-size="40" style="font-family:'Liberation Serif',serif;">)</text>
<text transform="translate(1076.48,429.51) rotate(-90) scale(0.5614,0.9575)" font-size="40" style="font-family:'Liberation Serif',serif;">]</text>
</svg>
</body></html>
